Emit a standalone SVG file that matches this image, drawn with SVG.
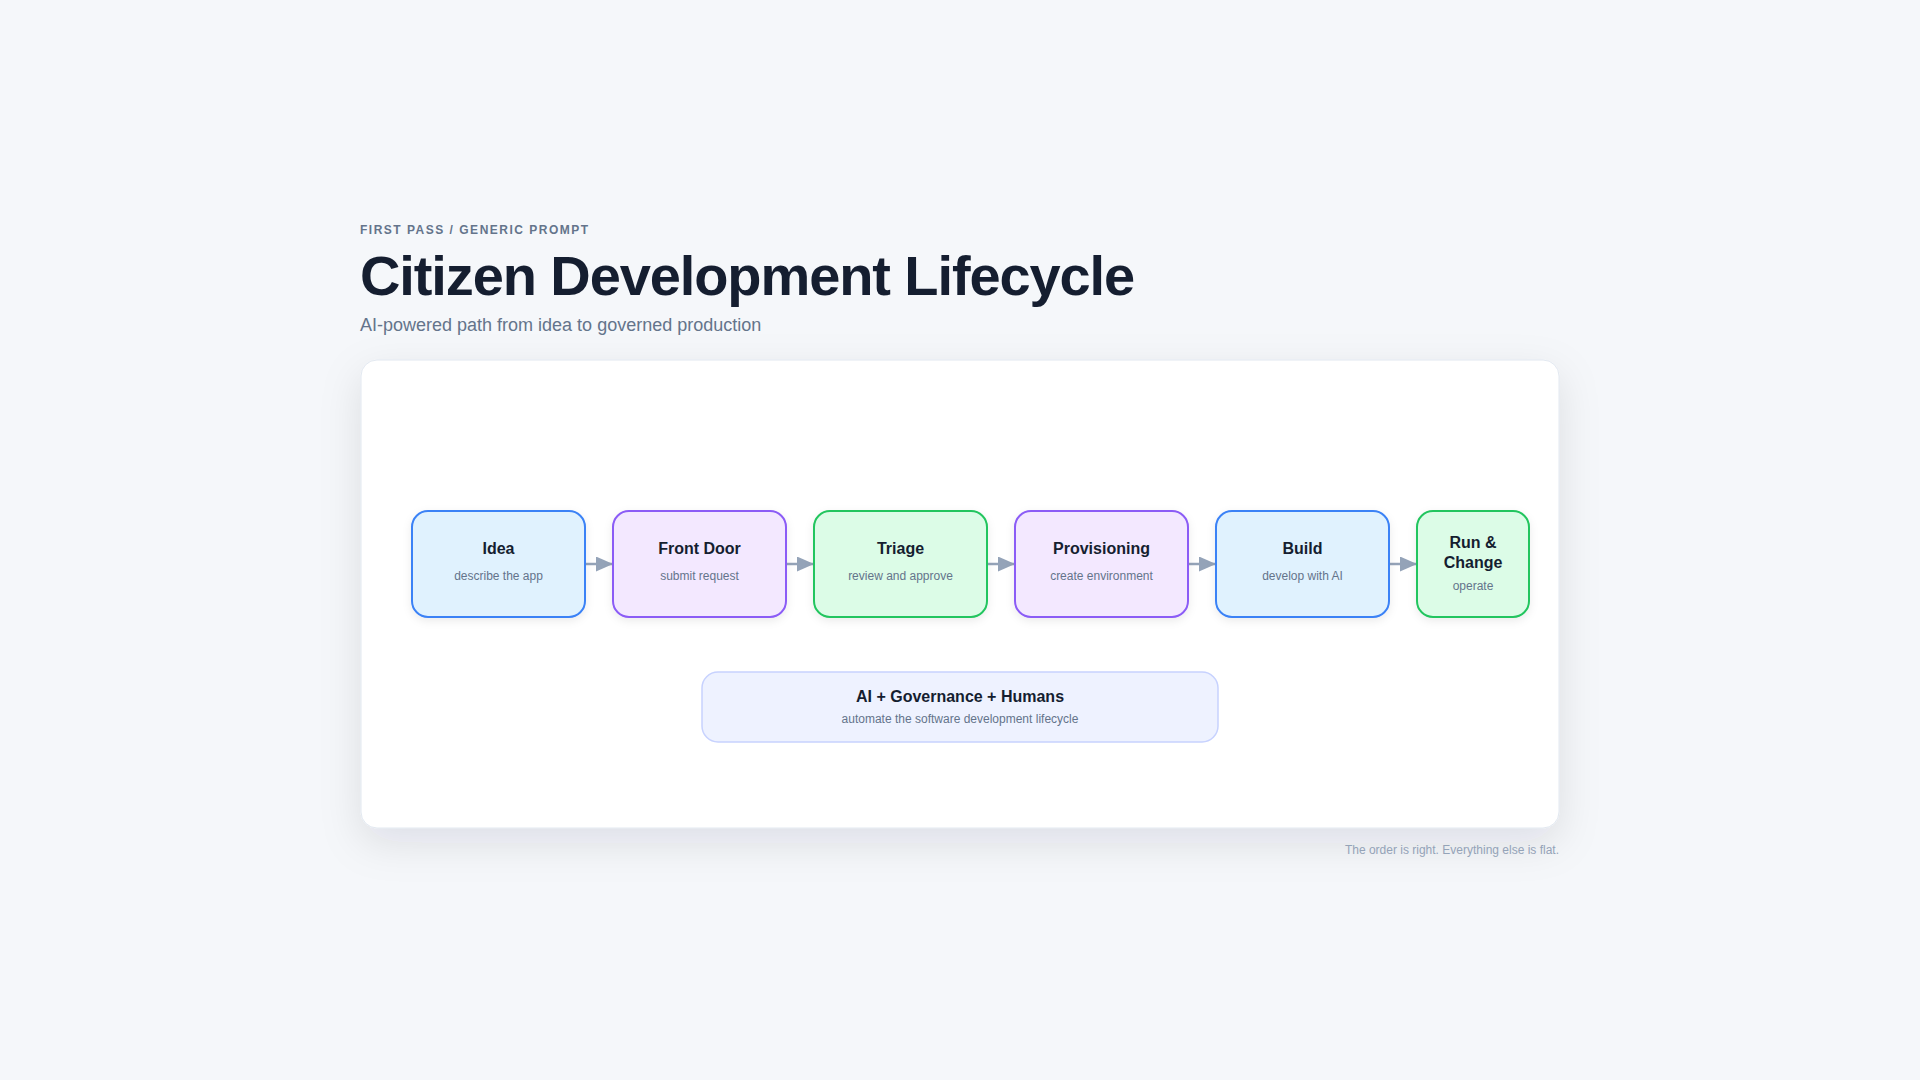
<svg xmlns="http://www.w3.org/2000/svg" width="1920" height="1080" viewBox="0 0 1920 1080">
<defs>
<style>
.eyebrow{font-family:"Liberation Sans",Arial,sans-serif;font-size:12px;font-weight:700;fill:#64748b;letter-spacing:1.5px}
.title{font-family:"Liberation Sans",Arial,sans-serif;font-size:56px;font-weight:700;fill:#151e30;letter-spacing:-1.1px}
.subtitle{font-family:"Liberation Sans",Arial,sans-serif;font-size:18px;fill:#64748b}
.nt{font-family:"Liberation Sans",Arial,sans-serif;font-size:16px;font-weight:700;fill:#151e30;text-anchor:middle}
.ns{font-family:"Liberation Sans",Arial,sans-serif;font-size:12px;fill:#64748b;text-anchor:middle}
.foot{font-family:"Liberation Sans",Arial,sans-serif;font-size:12px;fill:#94a3b8;text-anchor:end}
.blue{fill:#e0f2fe;stroke:#3b82f6;stroke-width:2}
.violet{fill:#f3e8ff;stroke:#8b5cf6;stroke-width:2}
.green{fill:#dcfce7;stroke:#22c55e;stroke-width:2}
.conn{stroke:#94a3b8;stroke-width:2.5;fill:none}
</style>
<filter id="cardShadow" x="-10%" y="-15%" width="120%" height="140%">
<feDropShadow dx="0" dy="14" stdDeviation="20" flood-color="#0f172a" flood-opacity="0.10"/>
</filter>
<filter id="nodeShadow" x="-20%" y="-20%" width="140%" height="150%">
<feDropShadow dx="0" dy="3" stdDeviation="4" flood-color="#0f172a" flood-opacity="0.08"/>
</filter>
<marker id="arrow" markerWidth="17" markerHeight="15" refX="17" refY="7.5" orient="auto" markerUnits="userSpaceOnUse">
<path d="M0,0 L17,7.5 L0,15 Z" fill="#94a3b8"/>
</marker>
</defs>
<rect width="1920" height="1080" fill="#f5f7fa"/>
<text class="eyebrow" x="360" y="234">FIRST PASS / GENERIC PROMPT</text>
<text class="title" x="360" y="295">Citizen Development Lifecycle</text>
<text class="subtitle" x="360" y="331">AI-powered path from idea to governed production</text>
<rect x="361" y="360" width="1198" height="468" rx="16" fill="#ffffff" stroke="#e2e8f0" stroke-width="1" filter="url(#cardShadow)"/>
<g id="connectors">
<line class="conn" x1="585" y1="564" x2="613" y2="564" marker-end="url(#arrow)"/>
<line class="conn" x1="786" y1="564" x2="814" y2="564" marker-end="url(#arrow)"/>
<line class="conn" x1="987" y1="564" x2="1015" y2="564" marker-end="url(#arrow)"/>
<line class="conn" x1="1188" y1="564" x2="1216" y2="564" marker-end="url(#arrow)"/>
<line class="conn" x1="1389" y1="564" x2="1417" y2="564" marker-end="url(#arrow)"/>
</g>
<g id="node-idea">
<rect class="blue" x="412" y="511" width="173" height="106" rx="16" filter="url(#nodeShadow)"/>
<text class="nt" x="498.5" y="554">Idea</text>
<text class="ns" x="498.5" y="580">describe the app</text>
</g>
<g id="node-frontdoor">
<rect class="violet" x="613" y="511" width="173" height="106" rx="16" filter="url(#nodeShadow)"/>
<text class="nt" x="699.5" y="554">Front Door</text>
<text class="ns" x="699.5" y="580">submit request</text>
</g>
<g id="node-triage">
<rect class="green" x="814" y="511" width="173" height="106" rx="16" filter="url(#nodeShadow)"/>
<text class="nt" x="900.5" y="554">Triage</text>
<text class="ns" x="900.5" y="580">review and approve</text>
</g>
<g id="node-provisioning">
<rect class="violet" x="1015" y="511" width="173" height="106" rx="16" filter="url(#nodeShadow)"/>
<text class="nt" x="1101.5" y="554">Provisioning</text>
<text class="ns" x="1101.5" y="580">create environment</text>
</g>
<g id="node-build">
<rect class="blue" x="1216" y="511" width="173" height="106" rx="16" filter="url(#nodeShadow)"/>
<text class="nt" x="1302.5" y="554">Build</text>
<text class="ns" x="1302.5" y="580">develop with AI</text>
</g>
<g id="node-run">
<rect class="green" x="1417" y="511" width="112" height="106" rx="16" filter="url(#nodeShadow)"/>
<text class="nt" x="1473" y="548">Run &amp;</text>
<text class="nt" x="1473" y="568">Change</text>
<text class="ns" x="1473" y="590">operate</text>
</g>
<g id="node-governance">
<rect x="702" y="672" width="516" height="70" rx="16" fill="#eef2ff" stroke="#c7d2fe" stroke-width="1.5"/>
<text class="nt" x="960" y="702">AI + Governance + Humans</text>
<text class="ns" x="960" y="723">automate the software development lifecycle</text>
</g>
<text class="foot" x="1559" y="854">The order is right. Everything else is flat.</text>
</svg>
